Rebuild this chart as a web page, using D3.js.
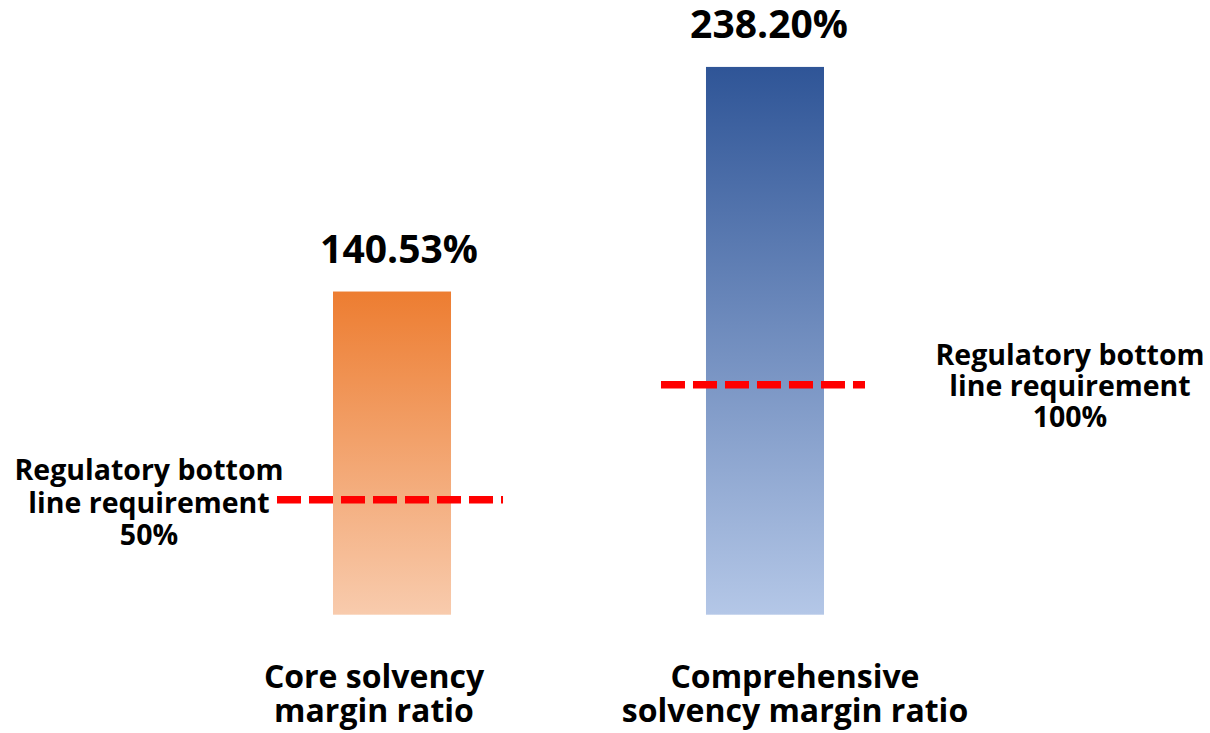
<!DOCTYPE html>
<html>
<head>
<meta charset="utf-8">
<script src="https://cdn.jsdelivr.net/npm/d3@7"></script>
<style>
  html, body { margin: 0; padding: 0; background: #ffffff; }
  svg { display: block; }
  text { font-family: "Open Sans", "Noto Sans", "DejaVu Sans", sans-serif; font-weight: 700; fill: #000; }
</style>
</head>
<body>
<svg id="chart" width="1210" height="733"></svg>
<script>
// Solvency ratios (%) and the regulatory minimum that applies to each
const categories = ["Core solvency margin ratio", "Comprehensive solvency margin ratio"];
const categoryLines = [["Core solvency", "margin ratio"], ["Comprehensive", "solvency margin ratio"]];
const ratios = [140.53, 238.20];
const valueLabels = ["140.53%", "238.20%"];
const requirements = [50, 100];
const requirementLines = [
  ["Regulatory bottom", "line requirement", "50%"],
  ["Regulatory bottom", "line requirement", "100%"]
];

// Layout
const W = 1210, H = 733;
const baseY = 614.7;
const layout = {
  valueGap: 29,
  catBaselines: [688, 722],
  catOffsetX: [-18, 30],
  reqLineExt: [[56, 52], [45, 41]],
  reqLabelX: [149, 1070],
  reqLabelBase: [480, 365],
  reqLineStep: [32.5, 31]
};
const gradients = [
  { id: "gradOrange", top: "#ED7D31", bottom: "#F8CBAD" },
  { id: "gradBlue", top: "#2F5597", bottom: "#B4C7E7" }
];

const svg = d3.select("#chart");

const x = d3.scaleBand()
  .domain(categories)
  .range([333, 824])
  .paddingInner(0.6836)
  .paddingOuter(0);

const y = d3.scaleLinear()
  .domain([0, 267.3])
  .range([baseY, 0]);

// vertical fills for the bars
const defs = svg.append("defs");
gradients.forEach(g => {
  const lg = defs.append("linearGradient")
    .attr("id", g.id)
    .attr("x1", 0).attr("y1", 0).attr("x2", 0).attr("y2", 1);
  lg.append("stop").attr("offset", "0%").attr("stop-color", g.top);
  lg.append("stop").attr("offset", "100%").attr("stop-color", g.bottom);
});

const data = categories.map((c, i) => ({
  cat: c, value: ratios[i], label: valueLabels[i],
  lines: categoryLines[i], req: requirements[i], reqText: requirementLines[i], i
}));

// bars
svg.append("g").selectAll("rect")
  .data(data)
  .join("rect")
  .attr("x", d => x(d.cat))
  .attr("y", d => y(d.value))
  .attr("width", x.bandwidth())
  .attr("height", d => y(0) - y(d.value))
  .attr("fill", d => `url(#${gradients[d.i].id})`);

// value labels above bars
svg.append("g").selectAll("text")
  .data(data)
  .join("text")
  .attr("x", d => x(d.cat) + x.bandwidth() / 2 + (d.i === 0 ? 7 : 4))
  .attr("y", d => y(d.value) - layout.valueGap)
  .attr("text-anchor", "middle")
  .style("font-size", "39px")
  .text(d => d.label);

// category labels under bars
const catG = svg.append("g").selectAll("text")
  .data(data)
  .join("text")
  .attr("text-anchor", "middle")
  .style("font-size", "32px");
catG.selectAll("tspan")
  .data(d => d.lines.map((t, k) => ({ t, k, d })))
  .join("tspan")
  .attr("x", o => x(o.d.cat) + x.bandwidth() / 2 + layout.catOffsetX[o.d.i])
  .attr("y", o => layout.catBaselines[o.k])
  .text(o => o.t);

// regulatory minimum dashed lines
svg.append("g").selectAll("line")
  .data(data)
  .join("line")
  .attr("x1", d => x(d.cat) - layout.reqLineExt[d.i][0])
  .attr("x2", d => x(d.cat) + x.bandwidth() + layout.reqLineExt[d.i][1])
  .attr("y1", d => y(d.req))
  .attr("y2", d => y(d.req))
  .attr("stroke", "#FF0000")
  .attr("stroke-width", 7.5)
  .attr("stroke-dasharray", "24,8");

// regulatory minimum labels
const reqG = svg.append("g").selectAll("text")
  .data(data)
  .join("text")
  .attr("text-anchor", "middle")
  .style("font-size", "28.5px");
reqG.selectAll("tspan")
  .data(d => d.reqText.map((t, k) => ({ t, k, d })))
  .join("tspan")
  .attr("x", o => layout.reqLabelX[o.d.i])
  .attr("y", o => layout.reqLabelBase[o.d.i] + o.k * layout.reqLineStep[o.d.i])
  .text(o => o.t);
</script>
</body>
</html>
